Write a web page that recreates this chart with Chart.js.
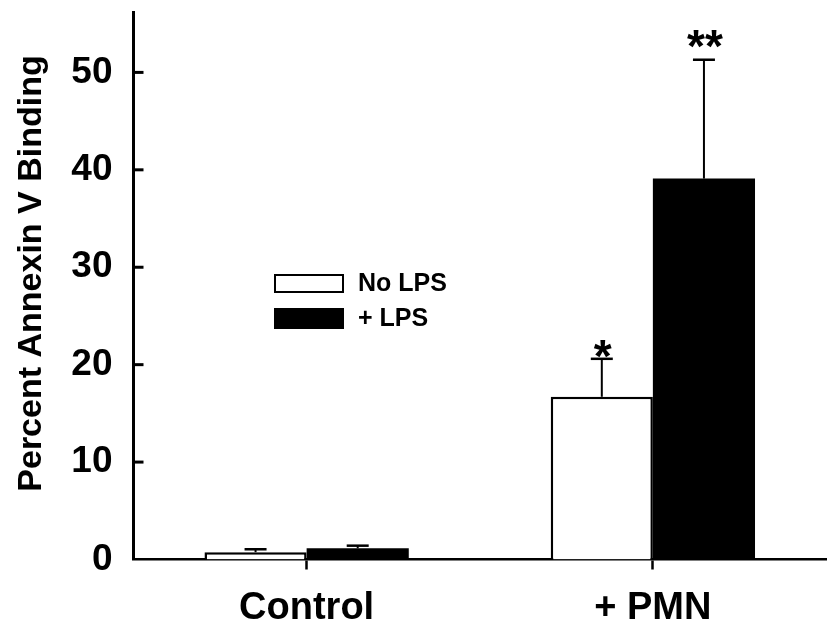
<!DOCTYPE html>
<html>
<head>
<meta charset="utf-8">
<script src="https://cdn.jsdelivr.net/npm/chart.js@4.4.1/dist/chart.umd.min.js"></script>
<style>
  html, body { margin: 0; padding: 0; background: #ffffff; }
  #wrap { width: 829px; height: 635px; }
</style>
</head>
<body>
<div id="wrap"><canvas id="c" width="829" height="635"></canvas></div>
<script>
// ---- data ----
const categories = ['Control', '+ PMN'];
const seriesNames = ['No LPS', '+ LPS'];
const noLps = [0.75, 16.7];
const plusLps = [1.15, 39.1];
const noLpsErr = [0.3, 3.9];
const plusLpsErr = [0.27, 12.2];
const noLpsSig = ['', '*'];
const plusLpsSig = ['', '**'];
const yTicks = [0, 10, 20, 30, 40, 50];
const yMin = 0;
const yMax = 56.2;
const yTitle = 'Percent Annexin V Binding';

const FONT = '"Liberation Sans", Arial, Helvetica, sans-serif';
const errs = [noLpsErr, plusLpsErr];
const sigs = [noLpsSig, plusLpsSig];

const overlay = {
  id: 'overlay',
  afterDatasetsDraw(chart) {
    const ctx = chart.ctx;
    const ys = chart.scales.y;
    const area = chart.chartArea;
    ctx.save();
    // error bars (upper only) and significance marks
    chart.data.datasets.forEach((ds, di) => {
      const meta = chart.getDatasetMeta(di);
      meta.data.forEach((el, i) => {
        const v = ds.data[i];
        const top = ys.getPixelForValue(v + errs[di][i]);
        ctx.strokeStyle = '#000';
        ctx.lineWidth = 2;
        ctx.beginPath();
        ctx.moveTo(el.x, el.y);
        ctx.lineTo(el.x, top);
        ctx.stroke();
        ctx.lineWidth = 2.5;
        ctx.beginPath();
        ctx.moveTo(el.x - 11, top);
        ctx.lineTo(el.x + 11, top);
        ctx.stroke();
        const s = sigs[di][i];
        if (s) {
          ctx.fillStyle = '#000';
          ctx.font = 'bold 46px ' + FONT;
          ctx.textAlign = 'center';
          ctx.textBaseline = 'alphabetic';
          ctx.fillText(s, el.x + 1, top + (s.length > 1 ? 2 : 13));
        }
      });
    });
    // inward y ticks
    ctx.strokeStyle = '#000';
    ctx.lineWidth = 3;
    ys.ticks.forEach(t => {
      const py = ys.getPixelForValue(t.value);
      if (t.value === yMin) return;
      ctx.beginPath();
      ctx.moveTo(area.left, py);
      ctx.lineTo(area.left + 10, py);
      ctx.stroke();
    });
    // legend
    const lx = 275, lw = 68;
    const rows = [{ y: 275, h: 17 }, { y: 309, h: 19 }];
    chart.data.datasets.forEach((ds, di) => {
      const r = rows[di];
      ctx.fillStyle = ds.backgroundColor;
      ctx.fillRect(lx, r.y, lw, r.h);
      ctx.strokeStyle = '#000';
      ctx.lineWidth = 2;
      ctx.strokeRect(lx, r.y, lw, r.h);
      ctx.fillStyle = '#000';
      ctx.font = 'bold 25px ' + FONT;
      ctx.textAlign = 'left';
      ctx.textBaseline = 'middle';
      ctx.fillText(ds.label, 358, r.y + r.h / 2 + 1);
    });
    // y title
    ctx.translate(32, 273.5);
    ctx.rotate(-Math.PI / 2);
    ctx.fillStyle = '#000';
    ctx.font = 'bold 34px ' + FONT;
    ctx.textAlign = 'center';
    ctx.textBaseline = 'middle';
    ctx.fillText(yTitle, 0, 0);
    ctx.restore();
  }
};

new Chart(document.getElementById('c'), {
  type: 'bar',
  data: {
    labels: categories,
    datasets: [
      { label: seriesNames[0], data: noLps, backgroundColor: '#ffffff', borderColor: '#000000', borderWidth: 2.5, borderSkipped: 'bottom' },
      { label: seriesNames[1], data: plusLps, backgroundColor: '#000000', borderColor: '#000000', borderWidth: 0 }
    ]
  },
  options: {
    responsive: false,
    animation: false,
    events: [],
    layout: { padding: { left: 0, right: 3, top: 12, bottom: 0 } },
    datasets: { bar: { barPercentage: 1.0, categoryPercentage: 0.59 } },
    plugins: { legend: { display: false }, tooltip: { enabled: false }, title: { display: false } },
    scales: {
      x: {
        type: 'category',
        offset: true,
        grid: { display: true, offset: false, drawOnChartArea: false, drawTicks: true, tickLength: 10, tickWidth: 2.5, tickColor: '#000' },
        border: { display: true, color: '#000', width: 2.5 },
        ticks: { color: '#000', padding: 16, font: { family: FONT, size: 38, weight: 'bold' }, maxRotation: 0 },
        afterFit(s) { s.height = 75.5; s.paddingLeft = 0; s.paddingRight = 0; }
      },
      y: {
        min: yMin,
        max: yMax,
        grid: { display: false, drawTicks: false },
        border: { display: true, color: '#000', width: 3 },
        ticks: { color: '#000', padding: 21, font: { family: FONT, size: 37, weight: 'bold' } },
        afterBuildTicks(s) { s.ticks = yTicks.map(v => ({ value: v })); },
        afterFit(s) { s.width = 133.5; s.paddingTop = 0; s.paddingBottom = 0; }
      }
    }
  },
  plugins: [overlay]
});
</script>
</body>
</html>
